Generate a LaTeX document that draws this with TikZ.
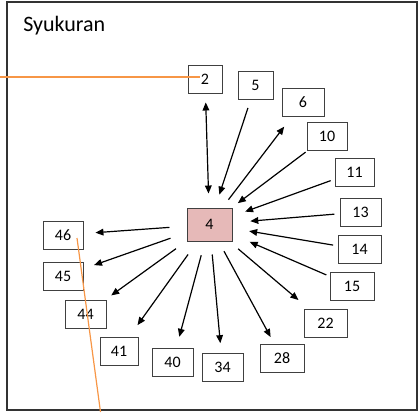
\documentclass[tikz,border=0pt]{standalone}
\usepackage{fontspec}
\setmainfont{Carlito}
\usetikzlibrary{arrows.meta}
\definecolor{boxline}{HTML}{404040}
\definecolor{hubfill}{HTML}{E6B9B8}
\definecolor{linkorange}{HTML}{F79646}
\begin{document}
\begin{tikzpicture}[x=0.75pt,y=-0.75pt,
	>={Triangle[length=6pt,width=5pt]},
	box/.style={draw=boxline, line width=0.7pt, minimum height=21pt, inner sep=0, font=\fontsize{12}{14}\selectfont},
	arr/.style={line width=0.9pt, ->},
	]
	\useasboundingbox (0,0) rectangle (418,412);
	\draw[line width=1.5pt, draw=black!80] (7,2) rectangle (416.5,409.5);
	\node[anchor=base west, inner sep=0, font=\fontsize{16.5}{19}\selectfont] (title) at (23,31.5) {Syukuran};
	\node[box, fill=hubfill, minimum width=33.75pt, minimum height=24.75pt] (hub) at (209.5,224.5) {4};
	\foreach \n/\x/\y/\w in {2/205/79/34,5/255.5/85/35,6/303/102/42,10/327/136/40,11/354.5/172/39,13/360.5/212/41,14/359.5/249.5/43,15/352/286/44,22/325.5/323/43,28/282/358/44,34/222.5/367/41,40/172.5/362/41,41/119/351/38,44/85.5/314/41,45/63/276/40,46/63/235/40}
	{
		\node[box, minimum width=0.75pt*\w] (b\n) at (\x,\y) {\n};
	}
	\draw[arr, <->, shorten <=0.75pt*9, shorten >=0.75pt*14] (b2) -- (hub);
	\foreach \n/\s/\e in {5/8.9/13.6,10/2.8/7.3,11/4.1/13.4,13/5.2/17.9,14/4.5/16.9,15/3.5/18.7}
	{
		\draw[arr, shorten <=0.75pt*\s, shorten >=0.75pt*\e] (b\n) -- (hub);
	}
	\foreach \n/\s/\e in {6/9.9/12.8,22/11.4/13.2,28/11.1/7.4,34/13.1/9.4,40/14.3/11.1,41/16/14,44/13/7,45/17/11.2,46/17.1/12}
	{
		\draw[arr, shorten <=0.75pt*\s, shorten >=0.75pt*\e] (hub) -- (b\n);
	}
	\coordinate (oa) at (0,77);
	\coordinate (ob) at (200,77);
	\coordinate (oc) at (77,238);
	\coordinate (od) at (100.5,412);
	\draw[linkorange, line width=0.9pt] (oa) -- (ob);
	\draw[linkorange, line width=0.9pt] (oc) -- (od);
\end{tikzpicture}
\end{document}
